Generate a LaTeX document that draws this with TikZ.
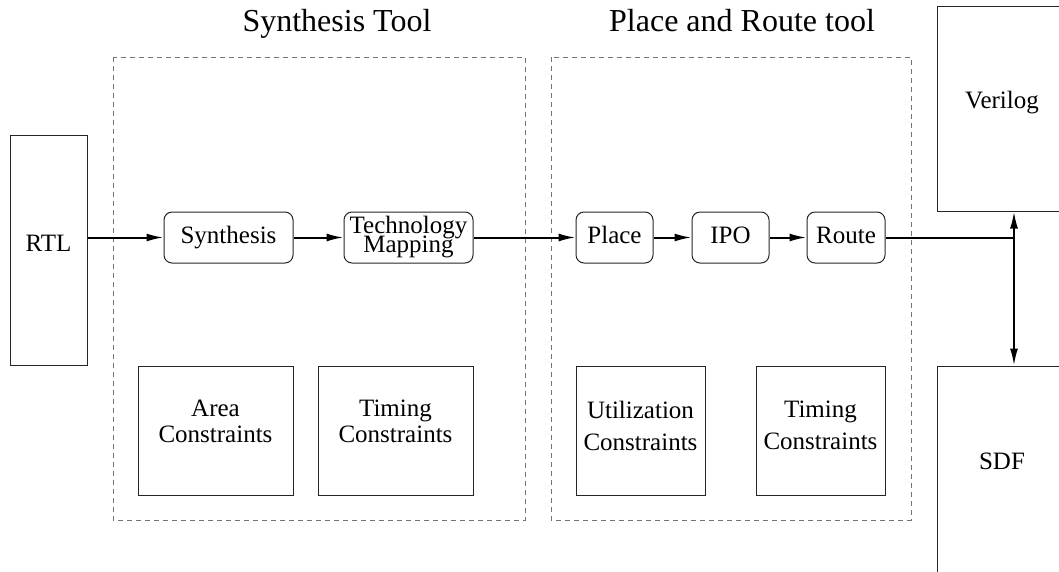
\documentclass[tikz,border=0pt]{standalone}
\usepackage{fontspec}
\setmainfont{Liberation Serif}
\usetikzlibrary{arrows.meta}
\newcommand{\boxfont}{\fontsize{25}{26}\selectfont}
\newcommand{\tightfont}{\fontsize{25}{19}\selectfont\lineskiplimit=-50pt\relax}
\newcommand{\lowstrut}[1]{\rule[-#1]{0pt}{#1}}
\begin{document}
\begin{tikzpicture}[x=1pt,y=-1pt,
  box/.style={draw=black!85, line width=1pt, rectangle, inner sep=0pt,
    font=\boxfont, align=center},
  step box/.style={box, rounded corners=8pt, minimum height=51pt,
    text height=17pt, text depth=5pt},
  cons box/.style={box, minimum width=#1, minimum height=129pt},
  group/.style={draw=black!55, line width=1pt, dash pattern=on 5pt off 4pt},
  flow/.style={line width=2pt, -{Latex[length=17pt,width=8pt]}},
  bus/.style={line width=2pt, {Latex[length=17pt,width=8pt]}-{Latex[length=17pt,width=8pt]}},
  title/.style={font=\fontsize{32}{34}\selectfont, anchor=base}
]
\clip (0,0) rectangle (1059,571);

% tool titles
\node[title] (syntitle) at (337,31) {Synthesis Tool};
\node[title] (prtitle)  at (742,31) {Place and Route tool};

% tool boundaries
\draw[group] (113,57) rectangle (525,520);
\draw[group] (551,57) rectangle (911,520);

% input and outputs
\node[box, minimum width=77pt, minimum height=230pt, text height=17pt, text depth=15pt]
  (rtl) at (48.5,250) {RTL};
\node[box, minimum width=130pt, minimum height=205pt, text height=17pt, text depth=18pt]
  (ver) at (1002,108.5) {Verilog};
\node[box, minimum width=130pt, minimum height=250pt, text height=17pt, text depth=61pt]
  (sdf) at (1002,491) {SDF};

% synthesis steps
\node[step box, minimum width=129pt] (syn)  at (228.5,237.5) {Synthesis};
\node[box, rounded corners=8pt, minimum height=51pt, minimum width=129pt, font=\tightfont]
  (tech) at (408.5,237.5) {Technology\\Mapping};

% place and route steps
\node[step box, minimum width=77pt] (place) at (614.5,237.5) {Place};
\node[step box, minimum width=77pt] (ipo)   at (730.5,237.5) {IPO};
\node[step box, minimum width=78pt] (route) at (846,237.5)   {Route};

% constraints
\node[cons box=155pt] (area)  at (215.5,430.5) {Area\\Constraints\lowstrut{18pt}};
\node[cons box=155pt] (stime) at (395.5,430.5) {Timing\\Constraints\lowstrut{18pt}};
\node[cons box=129pt, font=\fontsize{25}{32}\selectfont]
  (util)  at (640.5,430.5) {Utilization\\Constraints\lowstrut{10pt}};
\node[cons box=129pt, font=\fontsize{25}{32}\selectfont]
  (ptime) at (820.5,430.5) {Timing\\Constraints\lowstrut{10pt}};

% flow
\coordinate (split) at (1014,237.5);
\draw[flow] (rtl.east |- syn.west) -- (syn.west);
\draw[flow] (syn) -- (tech);
\draw[flow] (tech) -- (place);
\draw[flow] (place) -- (ipo);
\draw[flow] (ipo) -- (route);
\draw[line width=2pt] (route.east) -- (split);
\draw[bus] (split |- ver.south) -- (split |- sdf.north);
\end{tikzpicture}
\end{document}
